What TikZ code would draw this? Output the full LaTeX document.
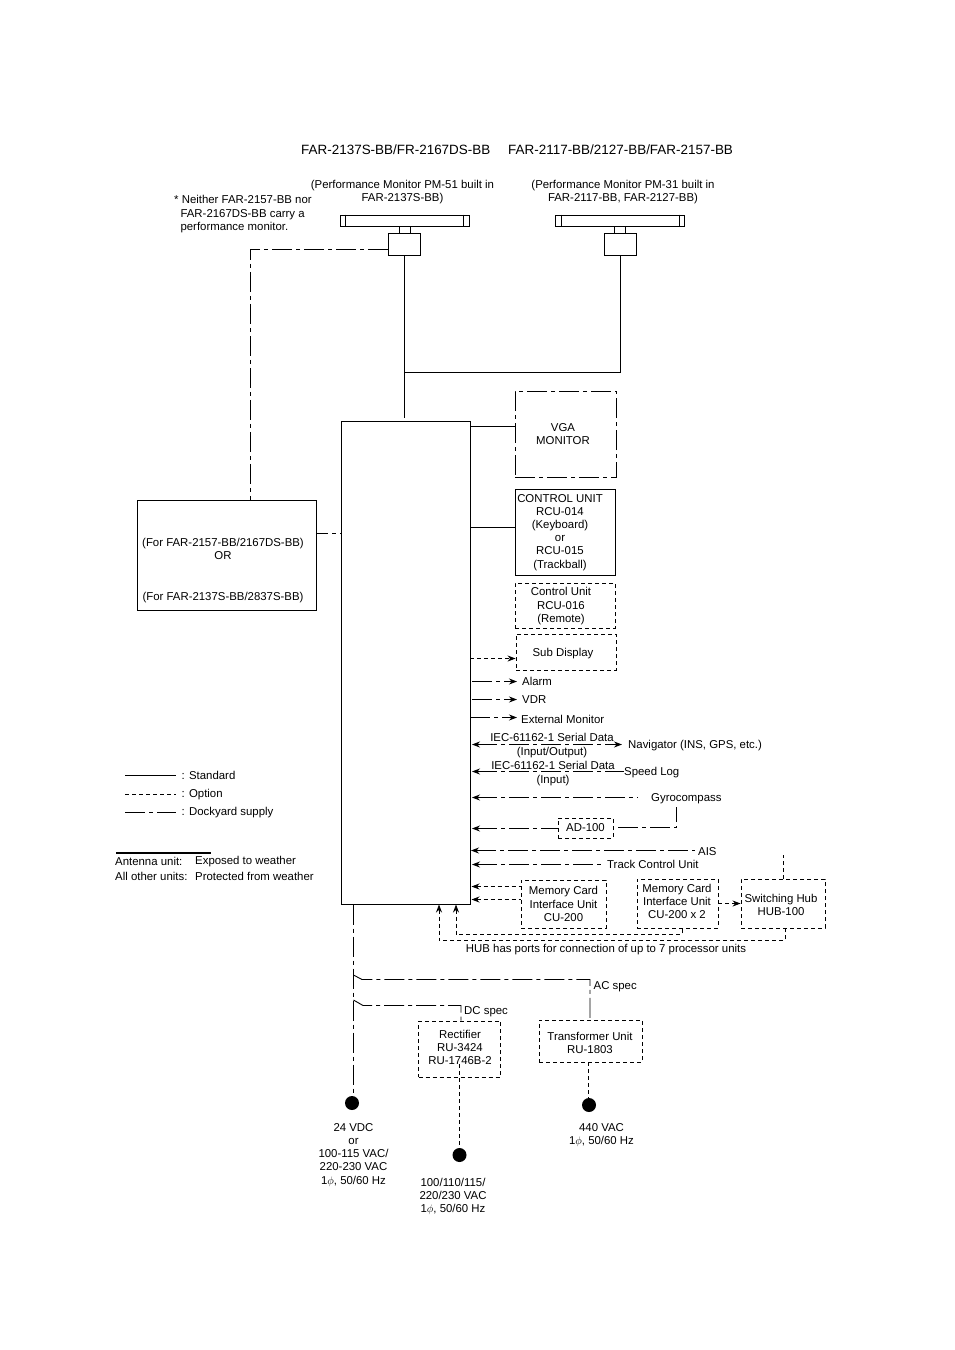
\documentclass[tikz,border=0pt]{standalone}
\usepackage{fontspec}
\setmainfont{Liberation Sans}
\usetikzlibrary{positioning,arrows.meta}
\tikzset{%
  txt/.style={inner sep=0pt,font=\fontsize{11.4}{13.2}\selectfont,align=center},
  lbl/.style={txt,yshift=-1.2pt},
  lbll/.style={lbl,align=left,anchor=west},
  title/.style={inner sep=0pt,font=\fontsize{13.45}{15}\selectfont,anchor=west},
  std/.style={draw,line width=.9pt},
  opt/.style={draw,line width=.9pt,dash pattern=on 4pt off 3pt},
  dock/.style={draw,line width=.9pt,dash pattern=on 20pt off 4pt on 4pt off 4pt},
  box/.style={txt,std,minimum width=#1},
  obox/.style={txt,opt,minimum width=#1},
  dbox/.style={txt,dock,minimum width=#1},
  arr/.style={-{Stealth[length=8pt,width=6pt]}},
  rra/.style={{Stealth[length=8pt,width=6pt]}-},
  both/.style={{Stealth[length=8pt,width=6pt]}-{Stealth[length=8pt,width=6pt]}},
  dot/.style={circle,fill=black,inner sep=0pt,minimum size=14pt}
}
\begin{document}
\begin{tikzpicture}[x=1pt,y=-1pt]
  \useasboundingbox (0,0) rectangle (954,1350);

  \node[title] (model1) at (301,150) {FAR-2137S-BB/FR-2167DS-BB};
  \node[title] (model2) at (508,150) {FAR-2117-BB/2127-BB/FAR-2157-BB};
  \node[lbl] (pm1) at (402.5,190.5) {(Performance Monitor PM-51 built in\\FAR-2137S-BB)};
  \node[lbl] (pm2) at (623,190.5) {(Performance Monitor PM-31 built in\\FAR-2117-BB, FAR-2127-BB)};
  \node[lbll] (note) at (174,213) {* Neither FAR-2157-BB nor\\\ \ FAR-2167DS-BB carry a\\\ \ performance monitor.};

  % antennas
  \foreach \n/\x in {a/404.5,b/620} {
    \node[box=129pt,minimum height=11pt] (bar\n) at (\x,220.5) {};
    \draw[std] ([xshift=6pt]bar\n.north west) -- ([xshift=6pt]bar\n.south west);
    \draw[std] ([xshift=-6pt]bar\n.north east) -- ([xshift=-6pt]bar\n.south east);
    \node[box=32pt,minimum height=22pt] (ped\n) at (\x,244) {};
    \draw[std] ([xshift=-5.5pt]bar\n.south) -- ([xshift=-5.5pt]ped\n.north);
    \draw[std] ([xshift=5.5pt]bar\n.south) -- ([xshift=5.5pt]ped\n.north);
  }

  \node[box=129pt,minimum height=483pt] (proc) at (405.5,662.5) {};
  \node[box=179pt,minimum height=110pt] (rdr) at (226.5,555) {};
  \node[lbl] (rdr1) at (223,547.5) {(For FAR-2157-BB/2167DS-BB)\\OR};
  \node[lbl] (rdr2) at (223,596) {(For FAR-2137S-BB/2837S-BB)};
  \node[dbox=101pt,minimum height=86pt] (vga) at (565.5,434) {};
  \node[lbl] (vgat) at (563,432.5) {VGA\\MONITOR};
  \node[box=100pt,minimum height=86pt] (rcu) at (565,532) {};
  \node[lbl] (rcut) at (560,531) {CONTROL UNIT\\RCU-014\\(Keyboard)\\or\\RCU-015\\(Trackball)};
  \node[obox=100pt,minimum height=45pt] (rem) at (565,605.5) {};
  \node[lbl] (remt) at (561,605) {Control Unit\\RCU-016\\(Remote)};
  \node[obox=100pt,minimum height=36pt] (sub) at (566,652) {};
  \node[lbl] (subt) at (563,652) {Sub Display};

  \draw[std] (pedb.south) |- (404.5,372.5) coordinate (tee);
  \draw[std] (peda.south) -- (404.5,418);
  \draw[dock] (peda.west |- 0,249.5) -| (250.5,500);
  \draw[std] (proc.east |- 0,426.5) -- (vga.west |- 0,426.5);
  \draw[std] (proc.east |- 0,527.5) -- (rcu.west |- 0,527.5);
  \draw[dock,dash phase=8pt] (rdr.east |- 0,533.5) -- (proc.west |- 0,533.5);
  \draw[opt,arr] (proc.east |- 0,658.5) -- (sub.west |- 0,658.5);

  % outputs
  \node[lbll] (alarm) at (522,680) {Alarm};
  \node[lbll] (vdr) at (522,698) {VDR};
  \node[lbll] (extmon) at (521,718) {External Monitor};
  \node[lbll] (nav) at (628,744.5) {Navigator (INS, GPS, etc.)};
  \node[lbl] (iec1) at (552,744) {IEC-61162-1 Serial Data\\[.5pt](Input/Output)};
  \node[lbll] (log) at (624,771) {Speed Log};
  \node[lbl] (iec2) at (553,772) {IEC-61162-1 Serial Data\\[.5pt](Input)};
  \node[lbll] (gyro) at (651,797) {Gyrocompass};
  \node[obox=55pt,minimum height=20pt] (ad) at (585.5,828) {AD-100};
  \node[lbll] (ais) at (698,850) {AIS};
  \node[lbll] (track) at (607,863) {Track Control Unit};
  \draw[dock,arr] (472,681.5) -- (517,681.5);
  \draw[dock,arr] (472,699.5) -- (517,699.5);
  \draw[dock,arr] (proc.east |- 0,717.5) -- (517,717.5);
  \draw[dock,both] (472,744.5) -- (622,744.5);
  \draw[dock,rra] (472,771.5) -- (log.west |- 0,771.5);
  \draw[dock,rra] (472,797.5) -- (638,797.5);
  \draw[dock,rra] (472,828.5) -- (ad.west |- 0,828.5);
  \draw[dock] (618,827.5) -| (676.5,807);
  \draw[dock,rra] (471,850.5) -- (695,850.5);
  \draw[dock,rra] (472,864.5) -- (605,864.5);

  % memory cards and hub
  \node[obox=85pt,minimum height=48pt] (mem1) at (563.5,904) {Memory Card\\Interface Unit\\CU-200};
  \node[obox=81pt,minimum height=49pt] (mem2) at (677.5,903.5) {};
  \node[lbl] (mem2t) at (677,900.5) {Memory Card\\Interface Unit\\CU-200 x 2};
  \node[obox=84pt,minimum height=49pt] (hub) at (783,903.5) {};
  \node[lbl] (hubt) at (781,904) {Switching Hub\\HUB-100};
  \node[lbl] (hubnote) at (606,948) {HUB has ports for connection of up to 7 processor units};
  \draw[opt,rra] (471.5,886.5) -- (mem1.west |- 0,886.5);
  \draw[opt,rra] (471.5,899.5) -- (mem1.west |- 0,899.5);
  \draw[opt,arr] (mem2.east |- 0,903.5) -- (hub.west |- 0,903.5);
  \draw[opt] (hub.north) -- (783,855);
  \draw[opt,rra] (439,904.5) |- (785,940.5) -- (785,928);
  \draw[opt,rra] (456,904.5) |- (682,934.5) -- (682,928);

  % power
  \node[dot] (pw1) at (352,1103) {};
  \node[dot] (pw2) at (459.5,1155) {};
  \node[dot] (pw3) at (589,1105) {};
  \node[obox=82pt,minimum height=56pt] (rect) at (459.5,1049) {};
  \node[lbl] (rectt) at (460,1046.5) {Rectifier\\RU-3424\\RU-1746B-2};
  \node[obox=103pt,minimum height=42pt] (trans) at (590.5,1041) {};
  \node[lbl] (transt) at (590,1041.5) {Transformer Unit\\RU-1803};
  \node[lbll] (acs) at (593.5,985) {AC spec};
  \node[lbll] (dcs) at (464,1010) {DC spec};
  \node[lbl] (v1) at (353.5,1153.5) {24 VDC\\or\\100-115 VAC/\\220-230 VAC\\1$\phi$, 50/60 Hz};
  \node[lbl] (v2) at (453,1195.5) {100/110/115/\\220/230 VAC\\1$\phi$, 50/60 Hz};
  \node[lbl] (v3) at (601.5,1133.5) {440 VAC\\1$\phi$, 50/60 Hz};
  \draw[dock] (353.5,904.5) -- (353.5,1096);
  \draw[dock] (353.5,975) -- (362,979.5) -| (590,1020);
  \draw[dock] (353.5,1000) -- (363,1005.5) -| (461,1021);
  \draw[opt] (459.5,1064) -- (pw2.north);
  \draw[opt] (588.5,1062) -- (588.5,1098);

  % legend
  \coordinate (l1) at (125,775.5);
  \coordinate (l2) at (125,794.5);
  \coordinate (l3) at (125,812.5);
  \node[lbll] (std) at (181.5,774) {: Standard};
  \node[lbll] (optn) at (181.5,793) {: Option};
  \node[lbll] (dky) at (181.5,811) {: Dockyard supply};
  \draw[std] (l1) -- (176,775.5);
  \draw[opt] (l2) -- (176,794.5);
  \draw[dock] (l3) -- (176,812.5);
  \coordinate (r1) at (116,853);
  \draw[line width=1.4pt] (r1) -- (211,853);
  \node[lbll] (w1) at (115,860) {Antenna unit:};
  \node[lbll] (w2) at (195,860) {Exposed to weather};
  \node[lbll] (w3) at (115,875) {All other units:};
  \node[lbll] (w4) at (195,875) {Protected from weather};
\end{tikzpicture}
\end{document}
